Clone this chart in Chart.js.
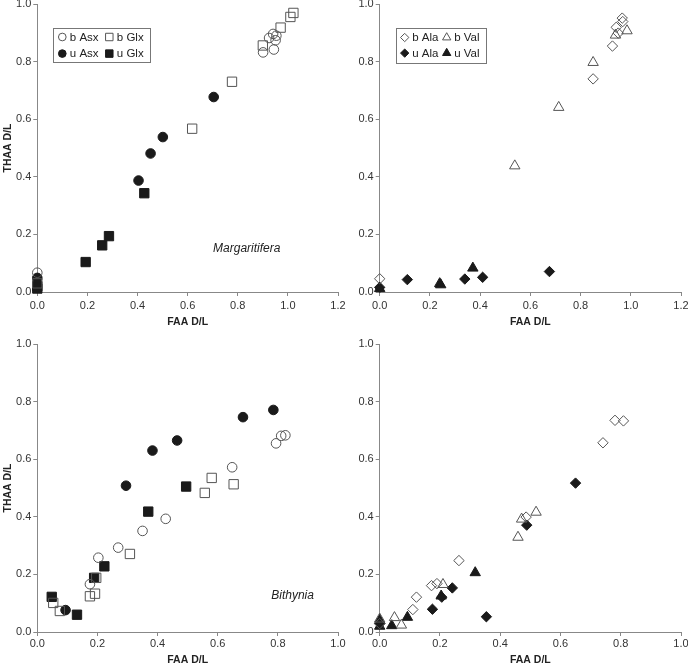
<!DOCTYPE html>
<html>
<head>
<meta charset="utf-8">
<script src="https://cdn.jsdelivr.net/npm/chart.js@4/dist/chart.umd.min.js"></script>
<style>
  html, body { margin: 0; padding: 0; background: #fff; overflow: hidden; }
  #wrap { position: relative; width: 688px; height: 663px; overflow: hidden; }
  canvas { position: absolute; }
</style>
</head>
<body>
<div id="wrap">
  <canvas id="tl" width="350" height="338" style="left:0;top:-10px"></canvas>
  <canvas id="tr" width="346" height="338" style="left:342px;top:-10px"></canvas>
  <canvas id="bl" width="350" height="336" style="left:0;top:330px"></canvas>
  <canvas id="br" width="346" height="336" style="left:342px;top:330px"></canvas>
</div>
<script>
// Margaritifera (top row), [FAA D/L, THAA D/L]
const margBAsx = [[0.901,0.832],[0.925,0.882],[0.941,0.896],[0.954,0.890],[0.951,0.874],[0.944,0.842],[0,0.067]];
const margBGlx = [[0.900,0.856],[0.971,0.918],[1.010,0.955],[1.022,0.969],[0.777,0.730],[0.618,0.567],[0,0.030]];
const margUAsx = [[0.704,0.677],[0.501,0.538],[0.452,0.481],[0.404,0.387],[0,0.049]];
const margUGlx = [[0.427,0.343],[0.286,0.194],[0.259,0.162],[0.193,0.104],[0,0.020],[0,0.012]];

const margBAla = [[0.966,0.951],[0.968,0.939],[0.942,0.919],[0.950,0.899],[0.927,0.854],[0.850,0.740],[0,0.046]];
const margBVal = [[0.985,0.907],[0.939,0.892],[0.850,0.797],[0.713,0.641],[0.538,0.438]];
const margUAla = [[0.676,0.071],[0.410,0.051],[0.339,0.045],[0.110,0.043],[0,0.016]];
const margUVal = [[0.371,0.083],[0.239,0.029],[0.243,0.025],[0,0.012]];

// Bithynia (bottom row)
const bithBAsx = [[0.825,0.683],[0.811,0.681],[0.794,0.655],[0.648,0.572],[0.427,0.393],[0.350,0.351],[0.269,0.293],[0.203,0.258],[0.175,0.166]];
const bithBGlx = [[0.580,0.535],[0.557,0.483],[0.653,0.513],[0.308,0.271],[0.196,0.188],[0.192,0.133],[0.175,0.124],[0.053,0.101],[0.075,0.073]];
const bithUAsx = [[0.785,0.771],[0.684,0.746],[0.465,0.665],[0.383,0.630],[0.295,0.508],[0.094,0.076]];
const bithUGlx = [[0.495,0.505],[0.369,0.418],[0.223,0.228],[0.189,0.188],[0.048,0.122],[0.132,0.060]];

const bithBAla = [[0.781,0.735],[0.809,0.733],[0.741,0.657],[0.486,0.399],[0.263,0.248],[0.190,0.168],[0.172,0.161],[0.122,0.121],[0.110,0.078],[0,0.029]];
const bithBVal = [[0.519,0.416],[0.471,0.392],[0.459,0.329],[0.210,0.165],[0.049,0.050],[0.072,0.024],[0,0.045]];
const bithUAla = [[0.650,0.517],[0.488,0.371],[0.241,0.153],[0.206,0.121],[0.175,0.079],[0.354,0.053],[0,0.029]];
const bithUVal = [[0.317,0.206],[0.204,0.125],[0.092,0.051],[0.040,0.022],[0,0.040],[0,0.020]];

const xTitle = 'FAA D/L';
const yTitle = 'THAA D/L';

const FONT = 'Liberation Sans, Arial, sans-serif';
const OPEN = '#555';
const DARK = '#1a1a1a';

// marker looks
const STYLES = {
  circle:   { pointStyle: 'circle',   r: 4.8 },
  rect:     { pointStyle: 'rect',     r: 6.6 },
  rectRot:  { pointStyle: 'rectRot',  r: 5.2 },
  triangle: { pointStyle: 'triangle', r: 6.0 }
};

function ds(label, pts, shape, filled) {
  const s = STYLES[shape];
  return {
    label: label,
    data: pts.map(p => ({ x: p[0], y: p[1] })),
    pointStyle: s.pointStyle,
    pointRadius: s.r,
    pointBorderWidth: 1,
    pointBorderColor: filled ? DARK : OPEN,
    pointBackgroundColor: filled ? DARK : 'rgba(0,0,0,0)',
    showLine: false,
    clip: false
  };
}

// boxed 2x2 legend inside the plot area
const boxLegend = {
  id: 'boxLegend',
  afterDraw(chart, args, opts) {
    if (!opts.show) return;
    const ctx = chart.ctx;
    const a = chart.chartArea;
    const bx = a.left + opts.x, by = a.top + opts.y;
    ctx.save();
    ctx.strokeStyle = '#777';
    ctx.lineWidth = 1;
    ctx.strokeRect(Math.round(bx) + 0.5, Math.round(by) + 0.5, opts.w, opts.h);
    ctx.font = '11.5px ' + FONT;
    ctx.textBaseline = 'middle';
    opts.order.forEach((idx, k) => {
      const d = chart.data.datasets[idx];
      const col = k % 2, row = Math.floor(k / 2);
      const mx = bx + (col ? opts.col2 : 9);
      const my = by + opts.row1 + row * opts.rowGap;
      ctx.fillStyle = d.pointBackgroundColor;
      ctx.strokeStyle = d.pointBorderColor;
      ctx.lineWidth = 1;
      Chart.helpers.drawPoint(ctx, { pointStyle: d.pointStyle, radius: d.pointRadius * 0.8, borderWidth: 1, rotation: 0 }, mx, my);
      ctx.fillStyle = '#222';
      ctx.fillText(d.label, mx + 7.5, my + 0.5);
    });
    ctx.restore();
  }
};

// italic species name
const species = {
  id: 'species',
  afterDraw(chart, args, opts) {
    if (!opts.text) return;
    const ctx = chart.ctx;
    ctx.save();
    ctx.font = 'italic 12px ' + FONT;
    ctx.fillStyle = '#222';
    ctx.textAlign = 'center';
    ctx.textBaseline = 'middle';
    ctx.fillText(opts.text, chart.scales.x.getPixelForValue(opts.x), chart.scales.y.getPixelForValue(opts.y));
    ctx.restore();
  }
};

function makeChart(id, datasets, xMax, showYTitle, padRight, yWidth, xHeight, xPad, legendOpts, speciesOpts) {
  return new Chart(document.getElementById(id), {
    type: 'scatter',
    data: { datasets: datasets },
    plugins: [boxLegend, species],
    options: {
      responsive: false,
      devicePixelRatio: 1,
      animation: false,
      layout: { padding: { left: 0, top: 14, right: padRight, bottom: 0 } },
      plugins: {
        legend: { display: false },
        tooltip: { enabled: false },
        boxLegend: legendOpts,
        species: speciesOpts
      },
      scales: {
        x: {
          type: 'linear', min: 0, max: xMax,
          afterFit(s) { s.height = xHeight; s.paddingLeft = 0; s.paddingRight = 0; },
          ticks: { stepSize: 0.2, color: '#333', padding: xPad, font: { family: FONT, size: 11 },
                   callback: v => v.toFixed(1) },
          grid: { drawOnChartArea: false, drawTicks: true, tickLength: 4, color: '#888' },
          border: { color: '#888', width: 1 },
          title: { display: true, text: xTitle, color: '#222', padding: { top: 0, bottom: 0 },
                   font: { family: FONT, size: 10.5, weight: 'bold' } }
        },
        y: {
          type: 'linear', min: 0, max: 1,
          afterFit(s) { s.width = yWidth; s.paddingTop = 0; s.paddingBottom = 0; },
          ticks: { stepSize: 0.2, color: '#333', padding: 2, font: { family: FONT, size: 11 },
                   callback: v => v.toFixed(1) },
          grid: { drawOnChartArea: false, drawTicks: true, tickLength: 4, color: '#888' },
          border: { color: '#888', width: 1 },
          title: { display: showYTitle, text: yTitle, color: '#222', padding: { top: 1.4, bottom: 0 },
                   font: { family: FONT, size: 10.5, weight: 'bold' } }
        }
      }
    }
  });
}

const legendA = { show: true, x: 16, y: 24, w: 97, h: 34, col2: 56, row1: 9, rowGap: 16.6, order: [0, 1, 2, 3] };
const legendB = { show: true, x: 16, y: 24, w: 90, h: 35, col2: 51, row1: 9.5, rowGap: 15.6, order: [0, 1, 2, 3] };

makeChart('tl', [
  ds('b Asx', margBAsx, 'circle', false),
  ds('b Glx', margBGlx, 'rect', false),
  ds('u Asx', margUAsx, 'circle', true),
  ds('u Glx', margUGlx, 'rect', true)
], 1.2, true, 12, 37.3, 36, 3, legendA, { text: 'Margaritifera', x: 0.836, y: 0.149 });

makeChart('tr', [
  ds('b Ala', margBAla, 'rectRot', false),
  ds('b Val', margBVal, 'triangle', false),
  ds('u Ala', margUAla, 'rectRot', true),
  ds('u Val', margUVal, 'triangle', true)
], 1.2, false, 7, 37.7, 36, 3, legendB, {});

makeChart('bl', [
  ds('b Asx', bithBAsx, 'circle', false),
  ds('b Glx', bithBGlx, 'rect', false),
  ds('u Asx', bithUAsx, 'circle', true),
  ds('u Glx', bithUGlx, 'rect', true)
], 1.0, true, 12, 37.3, 34, 1, { show: false }, { text: 'Bithynia', x: 0.849, y: 0.125 });

makeChart('br', [
  ds('b Ala', bithBAla, 'rectRot', false),
  ds('b Val', bithBVal, 'triangle', false),
  ds('u Ala', bithUAla, 'rectRot', true),
  ds('u Val', bithUVal, 'triangle', true)
], 1.0, false, 7, 37.7, 34, 1, { show: false }, {});
</script>
</body>
</html>
